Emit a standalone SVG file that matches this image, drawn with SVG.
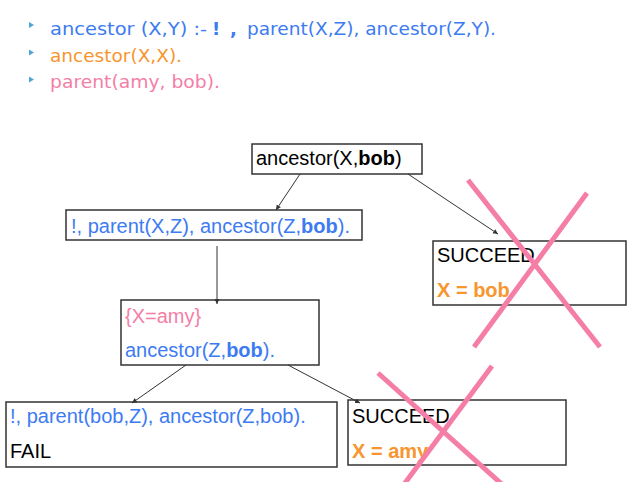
<svg xmlns="http://www.w3.org/2000/svg" width="639" height="482" viewBox="0 0 639 482">
<defs>
<marker id="ah" markerWidth="6" markerHeight="6" refX="5" refY="3" orient="auto" markerUnits="userSpaceOnUse">
<path d="M0,0.5 L5,3 L0,5.5 Z" fill="#333"/>
</marker>
<style>
.box{fill:#fff;stroke:#333;stroke-width:1.5}
.t{font-family:"Liberation Sans",Arial,sans-serif;font-size:20px}
.top{font-family:"DejaVu Sans","Noto Sans",sans-serif;font-size:18px}
.blue{fill:#3D7BF2}
.orange{fill:#F7952F}
.pink{fill:#F57EA6}
.blk{fill:#000}
.b{font-weight:bold}
.edge{stroke:#333;stroke-width:1;fill:none;marker-end:url(#ah)}
.x{stroke:#F57EA6;stroke-width:5;stroke-linecap:butt}
.bul{fill:#4DA6D6}
</style>
</defs>
<g id="rules">
<path class="bul" d="M29,22 L34,25 L29,28 Z"/>
<path class="bul" d="M29,49.5 L34,52.5 L29,55.5 Z"/>
<path class="bul" d="M29,76.5 L34,79.5 L29,82.5 Z"/>
<text class="top blue" x="50" y="35" textLength="157" lengthAdjust="spacingAndGlyphs">ancestor (X,Y) :-</text>
<text class="top blue b" x="212" y="35" font-size="28">!</text>
<text class="top blue b" x="230" y="35" font-size="22">,</text>
<text class="top blue" x="247" y="35" textLength="249" lengthAdjust="spacingAndGlyphs">parent(X,Z), ancestor(Z,Y).</text>
<text class="top orange" x="50" y="62" textLength="132" lengthAdjust="spacingAndGlyphs">ancestor(X,X).</text>
<text class="top pink" x="50" y="88" textLength="170" lengthAdjust="spacingAndGlyphs">parent(amy, bob).</text>
</g>
<g id="n1">
<rect class="box" x="252" y="144" width="170" height="30"/>
<text class="t blk" x="256" y="165">ancestor(X,<tspan class="b">bob</tspan>)</text>
</g>
<g id="n2">
<rect class="box" x="66" y="210" width="296" height="30"/>
<text class="t blue" x="71" y="233">!, parent(X,Z), ancestor(Z,<tspan class="b">bob</tspan>).</text>
</g>
<g id="n3">
<rect class="box" x="121" y="300" width="198" height="65"/>
<text class="t pink" x="125" y="323">{X=amy}</text>
<text class="t blue" x="125" y="357">ancestor(Z,<tspan class="b">bob</tspan>).</text>
</g>
<g id="n4">
<rect class="box" x="6" y="402" width="331" height="65"/>
<text class="t blue" x="10" y="423">!, parent(bob,Z), ancestor(Z,bob).</text>
<text class="t blk" x="10" y="458">FAIL</text>
</g>
<g id="n5">
<rect class="box" x="433" y="241" width="193" height="64"/>
<text class="t blk" x="437" y="262">SUCCEED</text>
<text class="t orange b" x="437" y="297">X = bob</text>
</g>
<g id="n6">
<rect class="box" x="348" y="400" width="218" height="65"/>
<text class="t blk" x="352" y="423">SUCCEED</text>
<text class="t orange b" x="352" y="458">X = amy</text>
</g>
<g id="connectors">
<line class="edge" x1="300" y1="174" x2="276" y2="210"/>
<line class="edge" x1="408" y1="174" x2="498" y2="234"/>
<line class="edge" x1="217" y1="246" x2="217" y2="304"/>
<line class="edge" x1="186" y1="365" x2="132" y2="403"/>
<line class="edge" x1="288" y1="365" x2="360" y2="403"/>
</g>
<g id="crosses">
<line class="x" x1="468" y1="180" x2="600" y2="347"/>
<line class="x" x1="587" y1="193" x2="474" y2="347"/>
<line class="x" x1="378" y1="373" x2="505" y2="487"/>
<line class="x" x1="492" y1="366" x2="402" y2="487"/>
</g>
</svg>
